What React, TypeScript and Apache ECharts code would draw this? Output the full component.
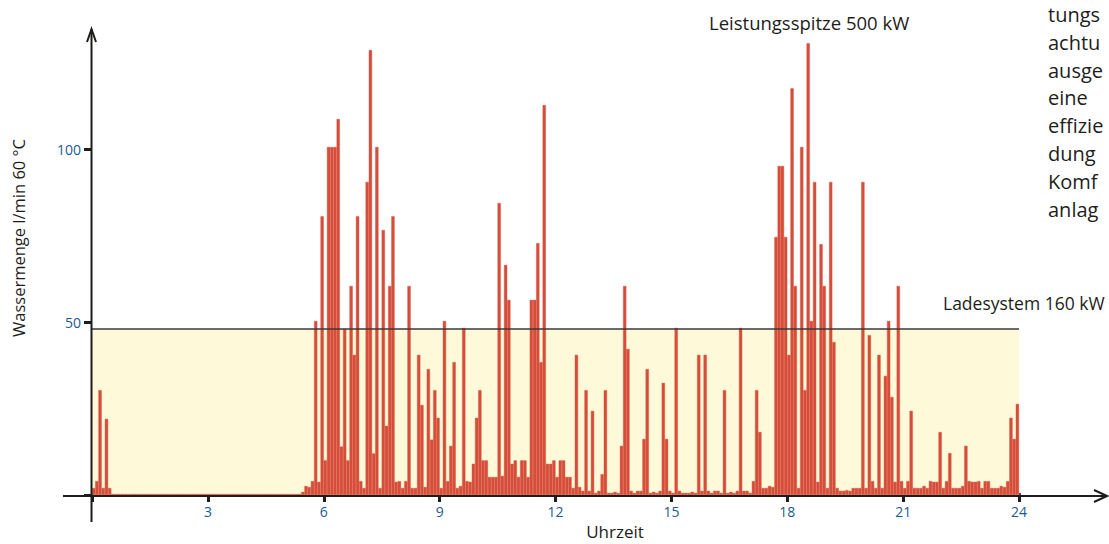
import React, { useEffect, useRef } from "react";
import * as echarts from "echarts";

// Water demand in l/min at 60 °C, one bar per 5-minute slot (288 slots = 24 h)
const earlyValues = [2, 4, 30.3, 2, 22, 2];
const nightValues = [
  0.3, 0.3, 0.3, 0.3, 0.3, 0.3, 0.3, 0.3, 0.3, 0.3,
  0.3, 0.3, 0.3, 0.3, 0.3, 0.3, 0.3, 0.3, 0.3, 0.3,
  0.3, 0.3, 0.3, 0.3, 0.3, 0.3, 0.3, 0.3, 0.3, 0.3,
  0.3, 0.3, 0.3, 0.3, 0.3, 0.3, 0.3, 0.3, 0.3, 0.3,
  0.3, 0.3, 0.3, 0.3, 0.3, 0.3, 0.3, 0.3, 0.3, 0.3,
  0.3, 0.3, 0.3, 0.3, 0.3, 0.3, 0.3, 0.3, 0.3,
];
const morningValues = [
  0.9, 2.6, 2.3, 4, 50.3, 3.8, 80.6, 10, 100.6, 100.6,
  100.6, 108.7, 14, 48, 10, 60.4, 40.5, 80.6, 4, 2,
  90.5, 128.6, 12, 100.6, 2, 76.6, 20, 60.4, 80.6, 3.8,
  4, 2, 4, 60.4, 2, 2, 40.5, 26, 2.3, 36.4,
  16, 30.3, 22.3, 2, 50.3, 4, 14.2, 38.4, 2,
];
const middayValues = [
  2.6, 48.3, 4, 3.8, 9, 22.3, 30.3, 10, 10, 5.2,
  5.2, 5.2, 84.4, 5.5, 66.5, 56.4, 9, 10, 5.2, 10,
  10, 5.2, 56.4, 56.4, 72.8, 38.4, 112.7, 9, 9, 10,
  5.2, 10, 10, 5.2, 5.2, 2, 40.5, 2.3, 1.2, 30.3,
  1.2, 24.3, 0.6, 1.2, 6, 30.3, 0.6,
];
const afternoonValues = [
  0.6, 0.9, 0.6, 14.2, 60.4, 42.2, 1.2, 0.6, 1.2, 1.2,
  16.2, 36.4, 0.6, 0.9, 0.6, 1.2, 32.4, 16.2, 1.2, 0.6,
  48.3, 1.2, 0.6, 0.6, 0.6, 0.9, 0.6, 40.5, 1.2, 40.5,
  1.2, 0.6, 1.2, 1.2, 0.6, 30.3, 0.6, 0.9, 0.6, 1.2,
  48.3, 1.2, 1.2, 0.6, 4, 30.3, 18.2, 2, 2, 2.6,
  2.3,
];
const eveningValues = [
  74.6, 95.1, 95.1, 74.6, 40.5, 117.6, 60.4, 2, 100.6, 30.3,
  130.6, 50.3, 90.5, 3.8, 72.5, 60.4, 2, 90.5, 44.2, 2,
  1.2, 1.2, 1.4, 1.2, 2, 2, 2, 90.5, 2, 46.2,
  4, 2, 40.5, 2, 34.4, 50.3, 28.3, 3.8, 60.4,
];
const lateValues = [
  4, 2, 4, 24.3, 2, 2, 2, 2.6, 2, 4,
  3.8, 3.8, 18.2, 2, 4, 12.1, 2, 2, 2, 2.6,
  14.2, 4, 3.8, 3.8, 4, 2, 4, 4, 2, 2,
  2, 2.6, 2.3, 4, 22.3, 16.2, 26.3,
];

const chargingThreshold = 48; // Ladesystem 160 kW
const xTickHours = [0, 3, 6, 9, 12, 15, 18, 21, 24];
const yTickValues = [0, 50, 100];
const paragraphLines = ["tungs", "achtu", "ausge", "eine", "effizie", "dung", "Komf", "anlag"];

const FONT = "'Open Sans', 'Noto Sans', sans-serif";
const BAR_COLOR = "#d64e3b";
const LABEL_BLUE = "#1e5a92";
const INK = "#1d1d1b";

export default function App() {
  const ref = useRef<HTMLDivElement>(null);

  useEffect(() => {
    if (!ref.current) return;
    const values = [
      ...earlyValues,
      ...nightValues,
      ...morningValues,
      ...middayValues,
      ...afternoonValues,
      ...eveningValues,
      ...lateValues,
    ];
    const slotLabels = values.map((_, i) => {
      const m = i * 5;
      const hh = String(Math.floor(m / 60)).padStart(2, "0");
      const mm = String(m % 60).padStart(2, "0");
      return `${hh}:${mm}`;
    });

    const chart = echarts.init(ref.current, null, { renderer: "svg" });

    const paragraph = paragraphLines.map((t, k) => ({
      type: "text",
      x: 1048,
      y: 14.5 + k * 27.8,
      style: {
        text: t,
        fill: INK,
        font: `20px ${FONT}`,
        lineHeight: 22,
        align: "left",
        verticalAlign: "middle",
      },
    }));

    const option: any = {
      animation: false,
      backgroundColor: "#ffffff",
      grid: { left: 92, top: 28, width: 927, height: 467, containLabel: false },
      xAxis: [
        {
          type: "category",
          data: slotLabels,
          show: false,
          boundaryGap: true,
        },
        {
          type: "value",
          min: xTickHours[0],
          max: xTickHours[xTickHours.length - 1],
          interval: xTickHours[1] - xTickHours[0],
          position: "bottom",
          axisLine: { show: false },
          axisTick: { show: true, length: 7, lineStyle: { color: INK, width: 3 } },
          axisLabel: {
            color: LABEL_BLUE,
            fontSize: 14,
            fontFamily: FONT,
            margin: 9,
            formatter: (v: number) => (v === 0 ? "" : String(v)),
          },
          splitLine: { show: false },
        },
        {
          type: "value",
          min: 0,
          max: 24,
          interval: 1,
          position: "bottom",
          axisLine: { show: false },
          axisTick: { show: true, inside: true, length: 2, lineStyle: { color: "#4a4a4a", width: 3 } },
          axisLabel: { show: false },
          splitLine: { show: false },
        },
      ],
      yAxis: {
        type: "value",
        min: yTickValues[0],
        max: 135,
        interval: yTickValues[1] - yTickValues[0],
        axisLine: { show: false },
        axisTick: { show: true, length: 8, lineStyle: { color: INK, width: 3 } },
        axisLabel: {
          color: LABEL_BLUE,
          fontSize: 14,
          fontFamily: FONT,
          margin: 11,
          showMaxLabel: false,
          formatter: (v: number) => (v === 0 ? "" : String(v)),
        },
        splitLine: { show: false },
      },
      series: [
        {
          type: "line",
          xAxisIndex: 1,
          data: [],
          z: 1,
          silent: true,
          markArea: {
            silent: true,
            itemStyle: { color: "#fef9d8" },
            data: [[{ coord: [0, 0] }, { coord: [24, chargingThreshold] }]],
          },
          markLine: {
            silent: true,
            symbol: ["none", "none"],
            label: { show: false },
            lineStyle: { color: "#3a3a3a", width: 1.5, type: "solid" },
            data: [[{ coord: [0, chargingThreshold] }, { coord: [24, chargingThreshold] }]],
          },
        },
        {
          type: "bar",
          xAxisIndex: 0,
          data: values,
          barCategoryGap: "0%",
          barGap: "0%",
          z: 3,
          itemStyle: { color: BAR_COLOR, borderColor: BAR_COLOR, borderWidth: 0.4 },
        },
      ],
      graphic: [
        // axes with arrows
        { type: "line", z: 10, shape: { x1: 91.5, y1: 29, x2: 91.5, y2: 522 }, style: { stroke: INK, lineWidth: 2 } },
        { type: "polyline", z: 10, shape: { points: [[87, 42], [91.5, 29], [96, 42]] }, style: { stroke: INK, lineWidth: 2, fill: "none" } },
        { type: "line", z: 10, shape: { x1: 63, y1: 496, x2: 1106, y2: 496 }, style: { stroke: INK, lineWidth: 2.2 } },
        { type: "polyline", z: 10, shape: { points: [[1094, 490], [1107, 496], [1094, 502]] }, style: { stroke: INK, lineWidth: 2, fill: "none" } },
        // annotations
        {
          type: "text", z: 10, x: 709, y: 22,
          style: { text: "Leistungsspitze 500 kW", fill: INK, font: `18.5px ${FONT}`, align: "left", verticalAlign: "middle" },
        },
        {
          type: "text", z: 10, x: 943, y: 303,
          style: { text: "Ladesystem 160 kW", fill: INK, font: `17.5px ${FONT}`, align: "left", verticalAlign: "middle" },
        },
        {
          type: "text", z: 10, x: 615, y: 531,
          style: { text: "Uhrzeit", fill: INK, font: `17px ${FONT}`, lineHeight: 18, align: "center", verticalAlign: "middle" },
        },
        {
          type: "text", z: 10, x: 18, y: 238, rotation: Math.PI / 2,
          style: { text: "Wassermenge l/min 60 °C", fill: INK, font: `16.5px ${FONT}`, align: "center", verticalAlign: "middle" },
        },
        ...paragraph,
      ],
    };

    chart.setOption(option);
    return () => chart.dispose();
  }, []);

  return (
    <div
      ref={ref}
      style={{ position: "fixed", left: 0, top: 0, width: 1109, height: 544, background: "#fff" }}
    />
  );
}
